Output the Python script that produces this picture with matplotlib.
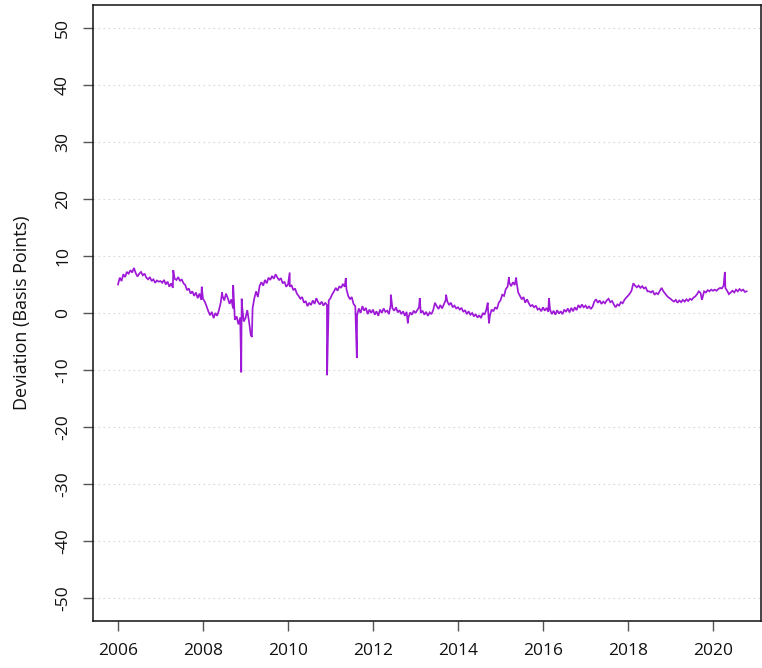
import numpy as np
import matplotlib
matplotlib.use("Agg")
import matplotlib.pyplot as plt

# Semi-monthly deviation readings (basis points), one list per calendar year
dev_2006 = [5.0, 6.2, 5.6, 6.8, 6.3, 7.2, 6.9, 7.5, 7.1, 7.9, 7.0, 6.4,
            6.9, 7.2, 6.6, 6.9, 6.2, 5.9, 6.3, 5.6, 5.9, 5.3, 5.7, 5.5]
dev_2007 = [5.6, 5.3, 5.8, 5.0, 5.5, 4.6, 5.2, 4.4, 6.0, 5.8, 6.3, 5.6,
            5.9, 5.2, 4.9, 4.0, 4.3, 3.4, 3.8, 3.0, 3.6, 2.6, 3.4, 2.3]
dev_2008 = [2.5, 2.0, 1.2, 0.3, -0.4, 0.2, -0.9, 0.0, -0.5, 0.5, 1.8, 3.0,
            2.2, 3.4, 2.6, 1.6, 2.4, 0.8, -1.2, -0.6, -2.0, -0.8, 1.5, -1.5]
dev_2009 = [-0.9, 0.5, -1.5, -3.9, 0.8, 2.6, 3.8, 2.8, 4.8, 5.4, 4.8, 5.8,
            5.2, 6.2, 5.8, 6.5, 6.0, 6.8, 6.2, 5.8, 6.1, 5.2, 5.5, 4.6]
dev_2010 = [5.0, 4.6, 4.9, 4.0, 4.3, 3.4, 3.0, 2.5, 2.8, 1.8, 2.1, 1.2,
            1.8, 1.4, 2.2, 1.6, 2.6, 1.9, 1.5, 2.0, 1.3, 1.8, 1.4, 2.2]
dev_2011 = [2.6, 3.3, 3.8, 4.4, 3.9, 4.7, 4.4, 5.1, 4.6, 4.2, 3.0, 2.4,
            2.8, 1.6, 1.2, -0.4, 0.8, 0.0, 1.2, 0.4, 0.9, -0.2, 0.6, 0.0]
dev_2012 = [0.6, -0.3, 0.3, -0.5, 0.6, 0.0, 0.8, 0.2, 0.4, -0.2, 1.4, 0.8,
            0.4, 1.0, 0.1, 0.5, -0.2, 0.3, -0.5, 0.2, -0.8, 0.1, -0.3, 0.4]
dev_2013 = [0.0, 0.5, 1.0, 0.0, 0.4, -0.3, 0.2, -0.5, 0.1, -0.2, 0.5, 1.8,
            1.2, 0.7, 1.4, 0.8, 1.5, 2.2, 2.0, 1.4, 1.8, 1.0, 1.3, 0.8]
dev_2014 = [1.0, 0.6, 0.9, 0.2, 0.5, -0.2, 0.3, -0.3, 0.0, -0.6, -0.2, -0.8,
            -0.4, -0.9, 0.0, -0.3, 0.6, 0.4, -0.5, 0.6, 0.3, 1.0, 0.7, 1.8]
dev_2015 = [2.2, 3.2, 3.0, 4.2, 4.6, 5.3, 4.7, 5.4, 4.9, 5.6, 3.6, 3.0,
            2.4, 2.8, 1.8, 2.4, 1.7, 1.2, 1.4, 1.0, 1.3, 0.6, 0.8, 0.3]
dev_2016 = [1.0, 0.4, 0.9, 0.2, 0.6, -0.2, 0.4, -0.3, 0.5, -0.1, 0.3, -0.2,
            0.6, 0.2, 0.8, 0.1, 0.9, 0.3, 1.0, 0.5, 1.4, 0.9, 1.5, 1.0]
dev_2017 = [1.3, 0.8, 1.2, 0.7, 1.1, 2.0, 2.4, 1.8, 2.2, 1.6, 2.0, 1.7,
            2.2, 2.5, 1.9, 2.1, 1.5, 1.0, 1.5, 1.3, 1.9, 1.7, 2.3, 2.7]
dev_2018 = [3.0, 3.4, 3.9, 5.2, 4.8, 4.5, 4.8, 4.4, 4.7, 4.3, 4.5, 3.8,
            3.8, 3.6, 3.9, 3.2, 3.5, 3.3, 3.9, 4.4, 3.8, 3.4, 3.0, 2.7]
dev_2019 = [2.5, 2.2, 2.0, 2.3, 1.8, 2.2, 1.9, 2.3, 2.0, 2.4, 2.1, 2.5,
            2.3, 2.7, 2.9, 3.3, 3.8, 3.5, 2.6, 3.8, 3.6, 4.0, 3.8, 4.1]
dev_2020 = [3.9, 4.1, 3.9, 4.2, 4.4, 4.3, 4.8, 4.4, 3.9, 3.3, 3.6, 3.9,
            3.6, 4.1, 3.8, 4.2, 3.9, 4.1, 3.7, 3.8]

# Single-day moves that stand out from the semi-monthly readings
spike_dates = [2007.30, 2007.97, 2008.45, 2008.71, 2008.90, 2008.91, 2009.15,
               2010.04, 2010.92, 2011.36, 2011.62, 2012.42, 2012.82, 2013.10,
               2013.72, 2014.70, 2014.73, 2015.20, 2015.37, 2016.14, 2019.74,
               2020.28]
spike_values = [7.5, 4.6, 3.6, 4.9, -10.4, 2.5, -4.2,
                7.1, -10.9, 6.1, -7.9, 3.2, -1.8, 2.6,
                3.2, 1.8, -1.8, 6.3, 6.2, 2.6, 2.3,
                7.2]

year_lists = [dev_2006, dev_2007, dev_2008, dev_2009, dev_2010, dev_2011,
              dev_2012, dev_2013, dev_2014, dev_2015, dev_2016, dev_2017,
              dev_2018, dev_2019, dev_2020]

dates, values = [], []
for k, vals in enumerate(year_lists):
    yr = 2006 + k
    for i, v in enumerate(vals):
        dates.append(yr + i / 24.0)
        values.append(v)
dates += spike_dates
values += spike_values
order = np.argsort(dates)
dates = np.asarray(dates)[order]
values = np.asarray(values)[order]

x_ticks = [2006, 2008, 2010, 2012, 2014, 2016, 2018, 2020]
y_ticks = [-50, -40, -30, -20, -10, 0, 10, 20, 30, 40, 50]

plt.rcParams['font.family'] = ['Open Sans', 'DejaVu Sans']

W, H = 762, 668
fig = plt.figure(figsize=(W / 100, H / 100), dpi=100)
ax = fig.add_axes([92.5 / W, (H - 621) / H, (761 - 92.5) / W, (621 - 5) / H])

for t in y_ticks:
    ax.axhline(t, color='#d9d9d9', lw=0.8, ls=(0, (1.5, 3)), zorder=0)

ax.plot(dates, values, color='#9400D3', lw=1.25, alpha=0.9,
        solid_joinstyle='miter', zorder=2)

ax.set_xlim(2005.40, 2021.13)
ax.set_ylim(-54, 54)
ax.set_xticks(x_ticks)
ax.set_xticklabels([str(t) for t in x_ticks])
ax.set_yticks(y_ticks)
ax.set_yticklabels([str(t) for t in y_ticks], rotation=90, va='center')

ax.tick_params(axis='both', length=7.5, width=1.0, color='#555555',
               labelsize=12.5, labelcolor='#111111', pad=8)
for s in ax.spines.values():
    s.set_color('#111111')
    s.set_linewidth(1.1)

ax.set_ylabel('Deviation (Basis Points)', fontsize=13, color='#111111',
              labelpad=17)

fig.savefig('out.png', dpi=100)
